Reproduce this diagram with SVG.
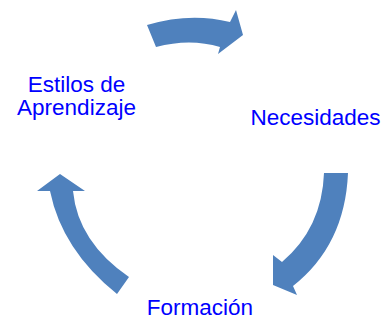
<svg xmlns="http://www.w3.org/2000/svg" width="388" height="320" viewBox="0 0 388 320">
<style>
.arrow{fill:#4F81BD;stroke:none}
.lbl{font-family:"Liberation Sans",Arial,sans-serif;font-size:22.5px;fill:#0000FF}
</style>
<rect width="388" height="320" fill="#FFFFFF"/>
<g id="connectors">
<path class="arrow" d="M147,25 Q190,12 230,22 L236,10 L243,35 L218,54 L220,47 Q190,38 156,47 Z"/>
<path class="arrow" d="M324,173 L348,173 Q345,245 293,286 L297,295 L273,285 L273,255 L282,262 Q322,228 324,173 Z"/>
<path class="arrow" d="M60,174 L85,191 L73,191 Q78,242 129,277 L117,294 Q62,250 50,191 L37,191 Z"/>
</g>
<g id="node-estilos">
<text class="lbl" x="76.5" y="91.5" text-anchor="middle">Estilos de</text>
<text class="lbl" x="76.5" y="115" text-anchor="middle">Aprendizaje</text>
</g>
<g id="node-necesidades">
<text class="lbl" x="315.5" y="124.5" text-anchor="middle">Necesidades</text>
</g>
<g id="node-formacion">
<text class="lbl" x="200" y="315" text-anchor="middle">Formación</text>
</g>
</svg>
